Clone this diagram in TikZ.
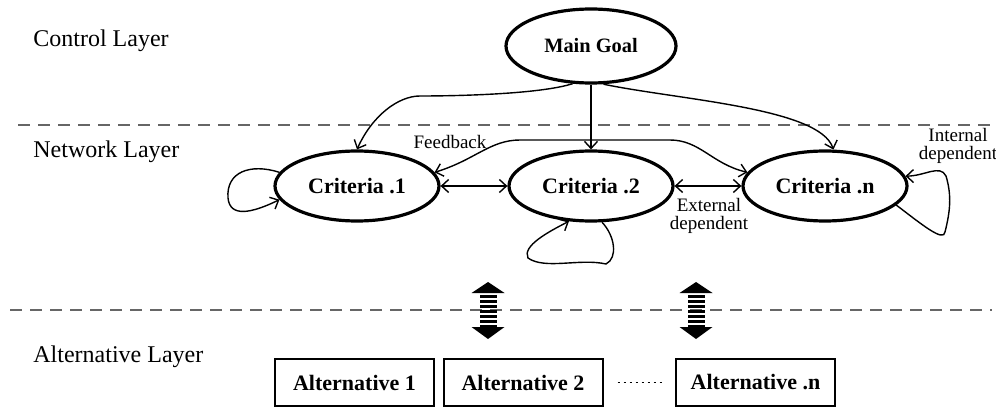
\documentclass[tikz,border=0pt]{standalone}
\usepackage{fontspec}
\setmainfont{Liberation Serif}
\usetikzlibrary{arrows.meta,shapes.geometric}

\begin{document}
\begin{tikzpicture}[x=0.5pt,y=0.5pt,
  crit/.style={ellipse,draw,line width=1.6pt,minimum width=82pt,minimum height=35pt,
    inner sep=0pt,font=\fontsize{11}{13}\selectfont\bfseries},
  altbox/.style={draw,line width=1pt,minimum width=79.5pt,minimum height=23.5pt,
    inner sep=0pt,font=\fontsize{11}{13}\selectfont\bfseries},
  layer/.style={anchor=west,inner sep=0pt,font=\fontsize{12}{14}\selectfont},
  note/.style={align=center,inner sep=0pt,font=\fontsize{9.5}{9}\selectfont},
  tip/.tip={Straight Barb[length=3.5pt,width=6.5pt]},
  conn/.style={line width=0.7pt,-tip},
  bconn/.style={line width=0.7pt,tip-tip},
  sep/.style={line width=1.1pt,draw=black!60,dash pattern=on 6pt off 4pt},
]
\useasboundingbox (0,0) rectangle (996,408);

% layer separators and titles
\coordinate (s1a) at (18,283);  \coordinate (s1b) at (992,283);
\coordinate (s2a) at (10,98);   \coordinate (s2b) at (992,98);
\draw[sep] (s1a) -- (s1b);
\draw[sep] (s2a) -- (s2b);
\node[layer] (lc) at (33,367) {Control Layer};
\node[layer] (ln) at (33,256) {Network Layer};
\node[layer] (la) at (33,51) {Alternative Layer};

% goal and criteria
\node[crit,minimum width=85pt,minimum height=37pt,font=\fontsize{10.2}{12}\selectfont\bfseries]
  (mg) at (591,362) {Main Goal};
\node[crit] (c1) at (357,222) {Criteria .1};
\node[crit] (c2) at (591,222) {Criteria .2};
\node[crit] (cn) at (825,222) {Criteria .n};

% goal to criteria
\draw[conn] (mg.-116) .. controls (540,314) and (460,312) .. (420,312)
  .. controls (398,312) and (372,292) .. (c1.north);
\draw[conn] (mg.south) -- (c2.north);
\draw[conn] (mg.-72) .. controls (680,308) and (820,300) .. (cn.77);

% feedback between criteria
\draw[bconn] (c1.10) .. controls (475,248) and (490,268) .. (520,268)
  -- (670,268) .. controls (700,268) and (712,244) .. (cn.170);
\node[note] (fb) at (450,266) {Feedback};

% external dependence
\draw[bconn] (c1.east) -- (c2.west);
\draw[bconn] (c2.east) -- (cn.west);
\node[note] (ext) at (709,192) {External\\dependent};

% internal dependence loops
\draw[conn] (c1.170) .. controls (250,245) and (226,236) .. (228,210)
  .. controls (230,190) and (252,195) .. (c1.190);
\draw[conn] (c2.-73) .. controls (615,172) and (618,150) .. (606,144)
  .. controls (580,150) and (545,138) .. (528,150)
  .. controls (522,162) and (548,176) .. (c2.-122);
\draw[conn] (cn.-15) .. controls (920,185) and (944,165) .. (945,176)
  .. controls (950,196) and (952,212) .. (946,232)
  .. controls (940,244) and (925,232) .. (cn.7);
\node[note] (int) at (958,262) {Internal\\dependent};

% links between network and alternatives
\foreach \cx in {488,696} {
  \fill (\cx-16.5,115) -- (\cx,126) -- (\cx+16.5,115) -- cycle;
  \fill (\cx-16.5,81) -- (\cx,69) -- (\cx+16.5,81) -- cycle;
  \foreach \k in {0,...,6}
    \fill ({\cx-8.5},{113-\k*5}) rectangle ({\cx+8.5},{110-\k*5});
}

% alternatives
\node[altbox] (a1) at (354.5,25.5) {Alternative 1};
\node[altbox] (a2) at (523,25.5) {Alternative 2};
\node[altbox] (an) at (755.5,25.5) {Alternative .n};
\draw[line width=0.9pt,dash pattern=on 1pt off 2pt,shorten <=7pt,shorten >=5.5pt]
  (a2.east) -- (an.west);
\end{tikzpicture}
\end{document}
